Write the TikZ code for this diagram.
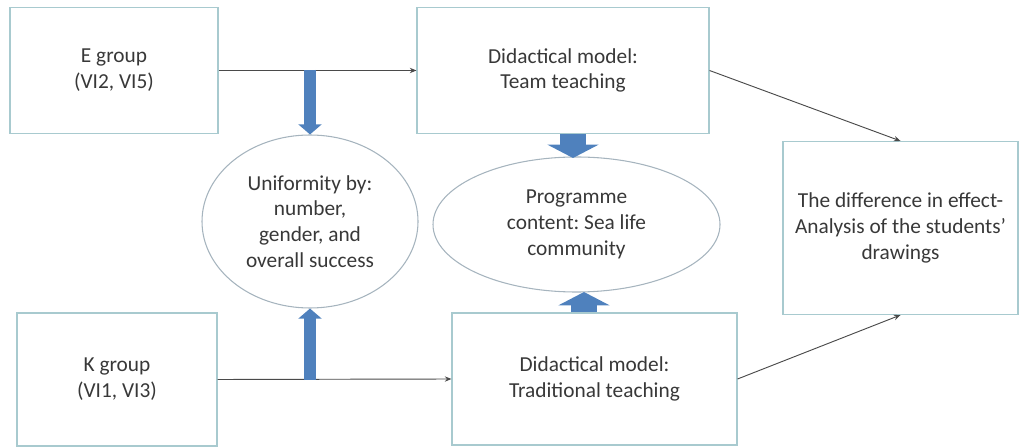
\documentclass[tikz,border=0pt]{standalone}
\usepackage{fontspec}
\setmainfont{Carlito}
\usepackage{tikz}
\usetikzlibrary{arrows.meta}
\usetikzlibrary{positioning}
\usetikzlibrary{shapes.geometric}
\frenchspacing
\definecolor{boxline}{HTML}{A8CACF}
\definecolor{ovalline}{HTML}{A6B4BE}
\definecolor{txtgray}{HTML}{383838}
\definecolor{linkgray}{HTML}{4A4A4A}
\definecolor{blockblue}{HTML}{4F81BD}
\tikzset{flow/.style={-{Stealth[length=5pt,width=4pt]}, draw=linkgray, line width=0.7pt}}
\tikzset{fat/.style={-{Triangle[length=7.5pt,width=17pt]}, draw=blockblue, line width=9pt}}
\tikzset{fatter/.style={-{Triangle[length=10pt,width=38pt]}, draw=blockblue, line width=19pt}}

\begin{document}
\begin{tikzpicture}[x=0.75pt,y=-0.75pt, font=\fontsize{16}{19.3}\selectfont]
\tikzstyle{box} = [rectangle, draw=boxline, line width=0.8pt, text=txtgray, align=center, inner sep=0pt]
\tikzstyle{oval} = [ellipse, draw=ovalline, line width=0.8pt, text=txtgray, align=center, inner sep=0pt]

\useasboundingbox (0,0) rectangle (1019,448);

\node[box, minimum width=156pt, minimum height=95pt] (Egroup) at (114,70.5)  {E group\\(VI2, VI5)};
\node[box, minimum width=150pt, minimum height=99.75pt] (Kgroup) at (117,379.5) {K group\\(VI1, VI3)};
\node[box, minimum width=219pt, minimum height=95pt] (Team) at (563,70.5)  {Didactical model:\\Team teaching};
\node[box, minimum width=213.75pt, minimum height=99pt] (Trad) at (594.5,379) {Didactical model:\\Traditional teaching};
\node[box, minimum width=176.25pt, minimum height=129.75pt] (Result) at (900.5,228)
   {The difference in effect-\\Analysis of the students'\\drawings};

\node[oval, minimum width=162pt, minimum height=129.75pt] (Unif) at (310,221.5)
   {Uniformity by:\\number,\\gender, and\\overall success};
\node[oval, minimum width=215.25pt, minimum height=101.25pt] (Prog) at (576.5,224.5)
   {Programme\\content: Sea life\\community};

\draw[flow] (Egroup.east) -- (Team.west);
\draw[flow] (Kgroup.east) -- (Trad.west);
\draw[flow] (Team.east) -- (Result.north);
\draw[flow] (Trad.east) -- (Result.south);

\coordinate (Etap) at (310,70);
\coordinate (Ktap) at (310,380);
\draw[fat] (Etap) -- (Unif.north);
\draw[fat] (Ktap) -- (Unif.south);
\draw[fatter] (Team.south -| 573,0) -- (573,158);
\draw[fatter] (Trad.north -| 584,0) -- (584,292);

\end{tikzpicture}
\end{document}
